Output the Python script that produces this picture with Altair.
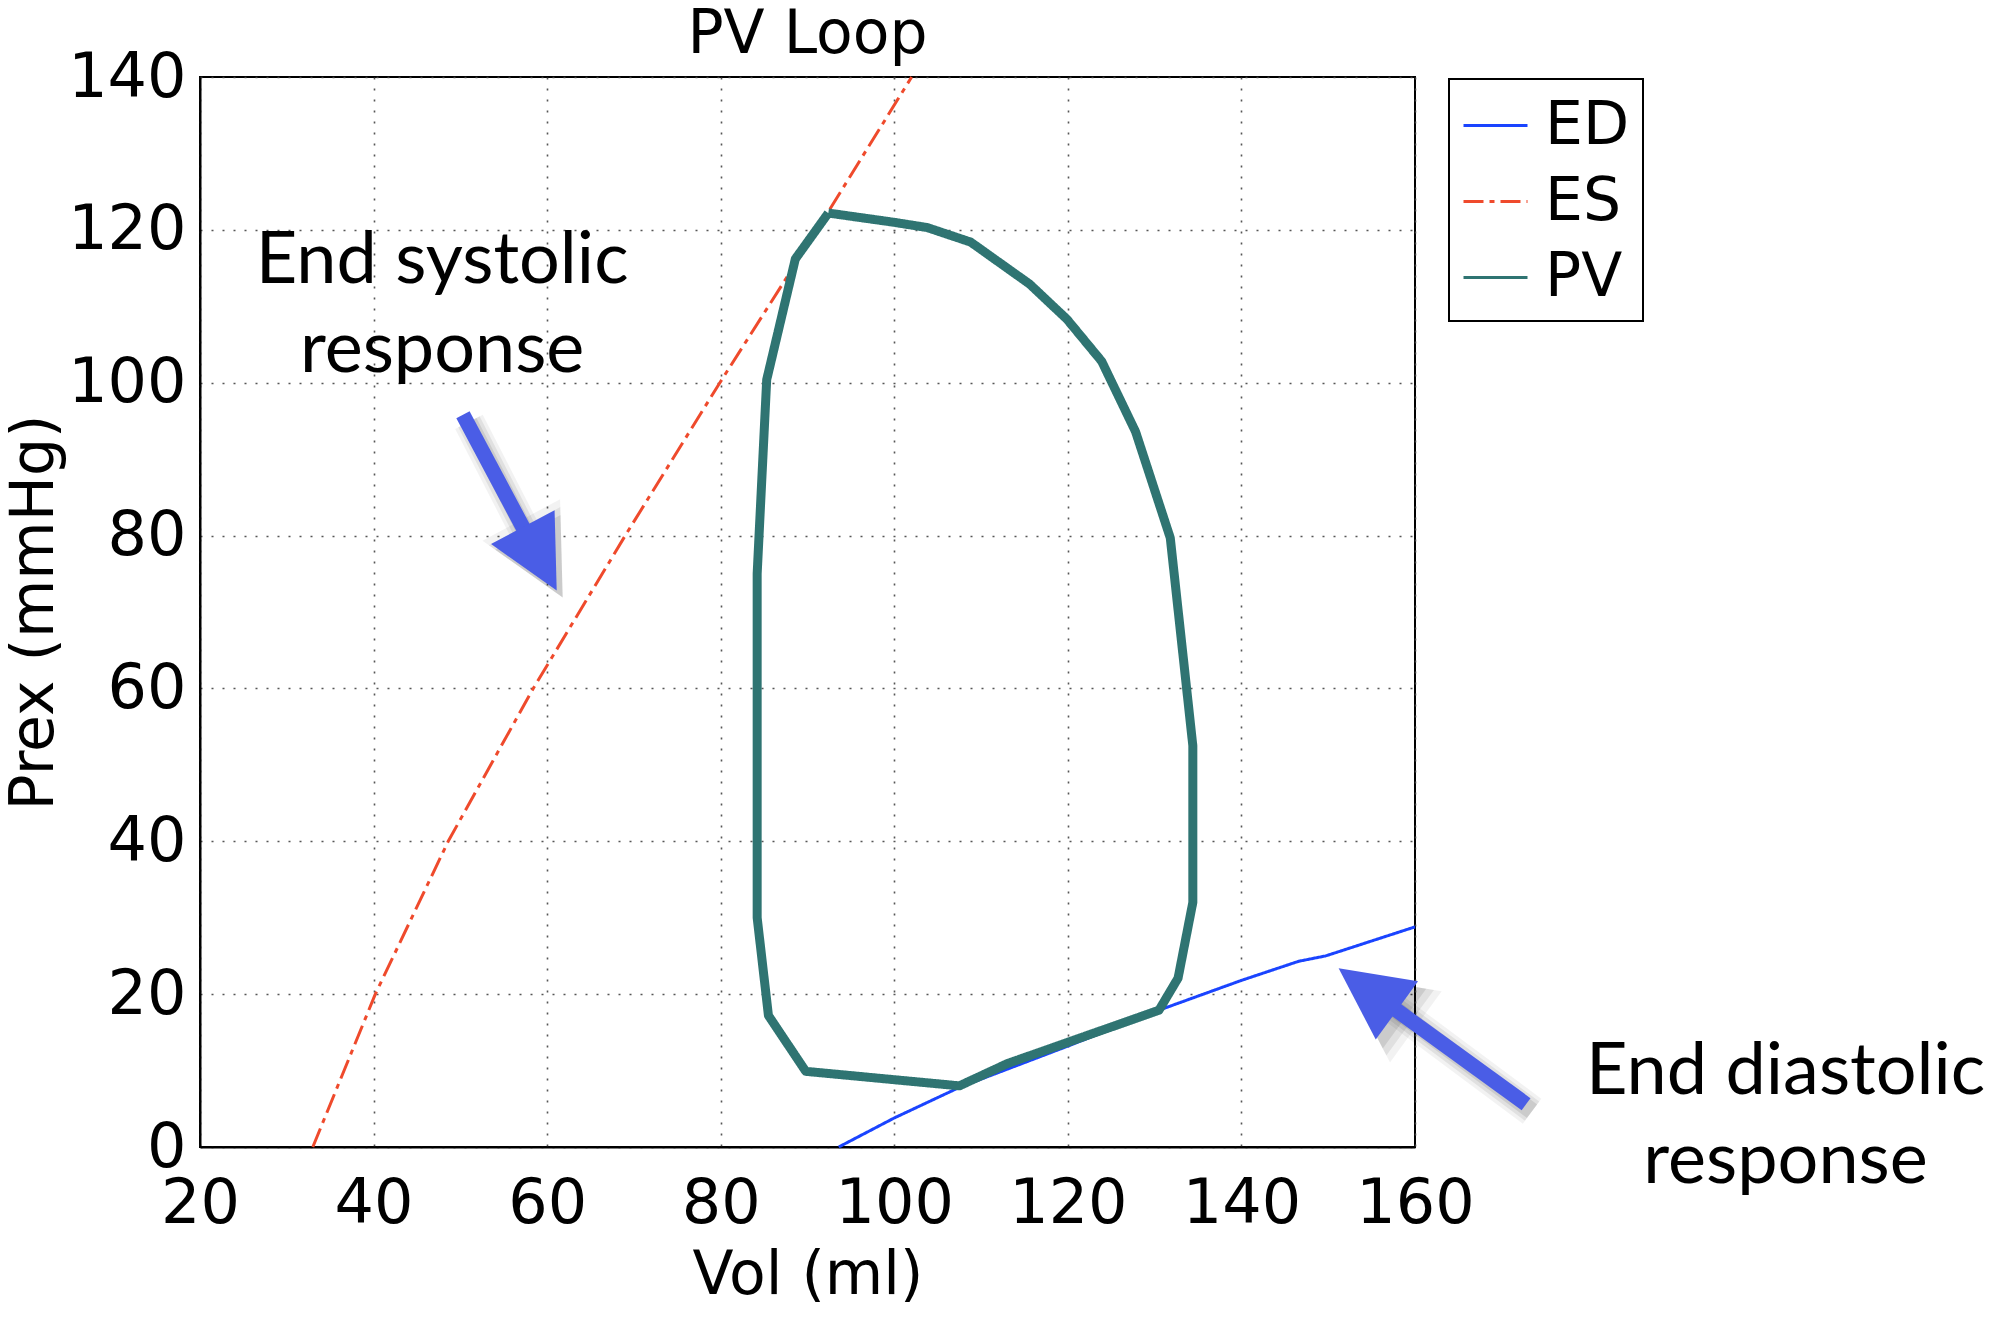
import math
import altair as alt
import pandas as pd

# ---------------- data ----------------
series_names = ["ED", "ES", "PV"]
series_colors = ["#1a44ff", "#ef4a2c", "#2f7472"]

es_vol = [33.0, 40.2, 48.6, 58.4, 69.0, 79.9, 91.1, 102.0]
es_p = [0, 20, 40, 60, 80, 100, 120, 140]

ed_vol = [93.6, 100.0, 107.5, 120.0, 130.5, 140.0, 146.6, 149.7, 160.0]
ed_p = [0.0, 3.8, 7.8, 13.2, 17.9, 21.8, 24.3, 25.0, 28.8]

pv_vol = [92.4, 99.9, 103.8, 108.8, 115.6, 119.9, 123.9, 127.8, 131.8, 134.4,
          134.4, 132.7, 130.5, 120.0, 113.0, 107.5, 89.8, 85.5, 84.2, 84.2,
          85.3, 88.6, 92.4]
pv_p = [122.2, 121.0, 120.3, 118.4, 112.9, 108.3, 102.8, 93.6, 79.7, 52.5,
        32.0, 22.1, 17.9, 13.7, 10.9, 8.0, 9.9, 17.2, 30.0, 75.0,
        100.4, 116.2, 122.2]

x_ticks = [20, 40, 60, 80, 100, 120, 140, 160]
y_ticks = [0, 20, 40, 60, 80, 100, 120, 140]

chart_title = "PV Loop"
annot_text = ["End systolic", "response", "End diastolic", "response"]
annot_vol = [47.9, 47.9, 202.7, 202.7]
annot_p = [113.1, 101.4, 6.9, -4.7]

arrow_tail_vol = [50.3, 172.8]
arrow_tail_p = [95.8, 5.6]
arrow_tip_vol = [61.1, 151.2]
arrow_tip_p = [72.8, 23.4]

# ---------------- layout ----------------
W, H = 1215, 1070
X_DOM = [20, 160]
Y_DOM = [0, 140]
kx = W / (X_DOM[1] - X_DOM[0])
ky = H / (Y_DOM[1] - Y_DOM[0])
PAD = {"left": 192, "top": 69, "right": 572, "bottom": 162}
FONT = "DejaVu Sans"
ANNOT_FONT = "Lato"
ARROW_COLOR = "#4a5de6"
HEAD_LEN = 72

# ---------------- tables ----------------
rows = []
for name, vs, ps in [("ED", ed_vol, ed_p), ("ES", es_vol, es_p), ("PV", pv_vol, pv_p)]:
    for i, (v, p) in enumerate(zip(vs, ps)):
        rows.append({"series": name, "vol": v, "p": p, "idx": i})
lines_df = pd.DataFrame(rows)

annot_df = pd.DataFrame({"text": annot_text, "vol": annot_vol, "p": annot_p})
title_df = pd.DataFrame({"text": [chart_title]})

shaft_rows, head_rows = [], []
for tv, tp, hv, hp in zip(arrow_tail_vol, arrow_tail_p, arrow_tip_vol, arrow_tip_p):
    dx = (hv - tv) * kx
    dy = -(hp - tp) * ky  # screen direction
    L = math.hypot(dx, dy)
    frac = (HEAD_LEN - 12) / L
    shaft_rows.append({"vol": tv, "p": tp,
                       "vol2": hv - frac * (hv - tv), "p2": hp - frac * (hp - tp)})
    ang = math.degrees(math.atan2(dx, -dy)) % 360
    head_rows.append({"vol": hv, "p": hp, "angle": ang})
shaft_df = pd.DataFrame(shaft_rows)
head_df = pd.DataFrame(head_rows)

xs = alt.Scale(domain=X_DOM, nice=False, zero=False)
ys = alt.Scale(domain=Y_DOM, nice=False, zero=False)

legend = alt.Legend(
    title=None, orient="none", legendX=1249, legendY=2,
    symbolType="stroke", symbolSize=4096, symbolStrokeWidth=3,
    labelFont=FONT, labelFontSize=60, labelColor="black", labelOffset=16,
    padding=13, rowPadding=12, fillColor="white", strokeColor="black",
)

color_enc = alt.Color("series:N", scale=alt.Scale(domain=series_names, range=series_colors),
                      legend=legend)
dash_enc = alt.StrokeDash("series:N",
                          scale=alt.Scale(domain=series_names,
                                          range=[[1, 0], [20, 6, 5, 6], [1, 0]]),
                          legend=legend)
x_enc = alt.X("vol:Q", scale=xs,
              axis=alt.Axis(values=x_ticks, title="Vol (ml)", labelPadding=26,
                            titlePadding=12))
y_enc = alt.Y("p:Q", scale=ys,
              axis=alt.Axis(values=y_ticks, title="Prex (mmHg)", labelPadding=14,
                            titlePadding=2))

base_lines = alt.Chart(lines_df).encode(
    x=x_enc, y=y_enc, color=color_enc, strokeDash=dash_enc, order=alt.Order("idx:Q"),
)
thin_lines = base_lines.transform_filter(alt.datum.series != "PV").mark_line(
    strokeJoin="round", strokeCap="butt", strokeWidth=3)
pv_line = base_lines.transform_filter(alt.datum.series == "PV").mark_line(
    strokeJoin="round", strokeCap="butt", strokeWidth=9)

shadow_layers = []
for extra, op in [(16, 0.05), (9, 0.07), (2, 0.09)]:
    shadow_layers.append(alt.Chart(shaft_df).mark_rule(
        color="black", opacity=op, strokeWidth=15 + extra, xOffset=6, yOffset=7
    ).encode(x=alt.X("vol:Q", scale=xs), y=alt.Y("p:Q", scale=ys), x2="vol2:Q", y2="p2:Q"))
    shadow_layers.append(alt.Chart(head_df).mark_point(
        shape="M0,0L1,2L-1,2Z", size=(HEAD_LEN + extra) ** 2, filled=True,
        color="black", opacity=op, strokeWidth=0, xOffset=6, yOffset=7
    ).encode(x=alt.X("vol:Q", scale=xs), y=alt.Y("p:Q", scale=ys),
             angle=alt.Angle("angle:Q", scale=None)))

shaft = alt.Chart(shaft_df).mark_rule(
    color=ARROW_COLOR, strokeWidth=15, strokeCap="butt"
).encode(x=alt.X("vol:Q", scale=xs), y=alt.Y("p:Q", scale=ys), x2="vol2:Q", y2="p2:Q")

head = alt.Chart(head_df).mark_point(
    shape="M0,0L1,2L-1,2Z", size=HEAD_LEN ** 2, filled=True,
    color=ARROW_COLOR, opacity=1, strokeWidth=0
).encode(x=alt.X("vol:Q", scale=xs), y=alt.Y("p:Q", scale=ys),
         angle=alt.Angle("angle:Q", scale=None))

annots = alt.Chart(annot_df).mark_text(
    font=ANNOT_FONT, fontSize=72, color="black", align="center", baseline="alphabetic"
).encode(x=alt.X("vol:Q", scale=xs), y=alt.Y("p:Q", scale=ys), text="text:N")

title_mark = alt.Chart(title_df).mark_text(
    font=FONT, fontSize=60, color="black", align="center", baseline="alphabetic"
).encode(x=alt.value(W / 2), y=alt.value(-24), text="text:N")

chart = alt.layer(thin_lines, pv_line, *shadow_layers, shaft, head, annots,
                  title_mark).properties(
    width=W, height=H,
    padding=PAD,
    autosize=alt.AutoSizeParams(type="none"),
).configure_view(
    stroke="black", strokeWidth=2
).configure_axis(
    labelFont=FONT, labelFontSize=62, labelColor="black",
    titleFont=FONT, titleFontSize=60, titleFontWeight="normal", titleColor="black",
    domain=True, domainColor="black", domainWidth=2, ticks=False,
    grid=True, gridColor="#444444", gridDash=[2, 9], gridWidth=1.6, gridOpacity=0.9,
    labelFlush=False, labelOverlap=False,
).configure_legend(
    strokeWidth=2
)

chart.save("out.html", embed_options={"renderer": "svg", "actions": False})
